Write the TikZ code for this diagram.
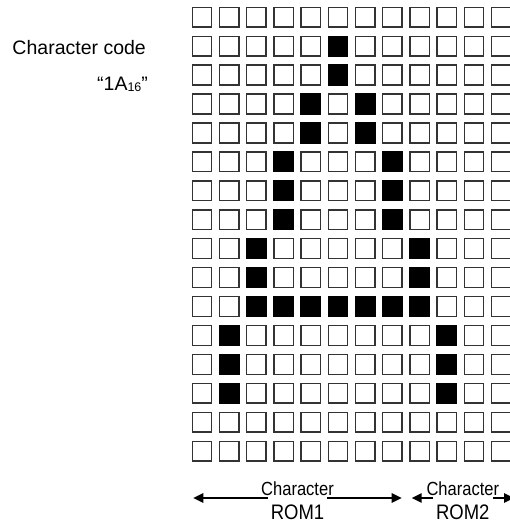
\documentclass[tikz,border=0pt]{standalone}
\usepackage{fontspec}
\usepackage{graphicx}
\setmainfont{Liberation Sans}
\usetikzlibrary{arrows.meta}
\begin{document}
\begin{tikzpicture}[x=1pt,y=-1pt,
  cell/.style={rectangle,draw=black!80,line width=1.4pt,minimum width=19.4pt,minimum height=19.8pt,inner sep=0pt,fill=white},
  dot/.style={cell,fill=black,draw=black},
  span/.style={line width=1.5pt,{Triangle[length=10pt,width=9.5pt]}-{Triangle[length=10pt,width=9.5pt]}},
  toplbl/.style={anchor=base,inner sep=0pt,font=\fontsize{19}{22}\selectfont},
  romlbl/.style={anchor=base,fill=white,inner xsep=3pt,inner ysep=8pt,font=\fontsize{21}{24}\selectfont},
  plain/.style={anchor=base west,inner sep=0pt,font=\fontsize{19.5}{23}\selectfont},
]
\useasboundingbox (0,0) rectangle (510,525);
\foreach \p in {2-6,3-6,4-5,4-7,5-5,5-7,6-4,6-8,7-4,7-8,8-4,8-8,9-3,9-9,10-3,10-9,
  11-3,11-4,11-5,11-6,11-7,11-8,11-9,12-2,12-10,13-2,13-10,14-2,14-10}
  {\expandafter\gdef\csname blk\p\endcsname{}}
\foreach \r in {1,...,16}{
  \foreach \c in {1,...,12}{
    \ifcsname blk\r-\c\endcsname
      \node[dot] (c-\r-\c) at ({202.05+27.2*(\c-1)},{17.2+28.93*(\r-1)}) {};
    \else
      \node[cell] (c-\r-\c) at ({202.05+27.2*(\c-1)},{17.2+28.93*(\r-1)}) {};
    \fi
  }
}
\node[plain] (code) at (12.3,54.3) {Character code};
\node[plain] (hex) at (97,90.5) {“1A\raisebox{-0.5pt}{\fontsize{12.5}{14}\selectfont 16}”};

\coordinate (a1l) at (193.3,498);
\coordinate (a1r) at (401.7,498);
\coordinate (a2l) at (411.7,498);
\coordinate (a2r) at (514,498);
\draw[span] (a1l) -- (a1r);
\draw[span] (a2l) -- (a2r);
\node[toplbl] (ch1) at (297.5,495.5) {\scalebox{0.87}[1]{Character}};
\node[romlbl] (rom1) at (297.5,519) {\scalebox{0.88}[1]{ROM1}};
\node[toplbl] (ch2) at (462.8,495.5) {\scalebox{0.87}[1]{Character}};
\node[romlbl] (rom2) at (462.8,519) {\scalebox{0.88}[1]{ROM2}};
\end{tikzpicture}
\end{document}
